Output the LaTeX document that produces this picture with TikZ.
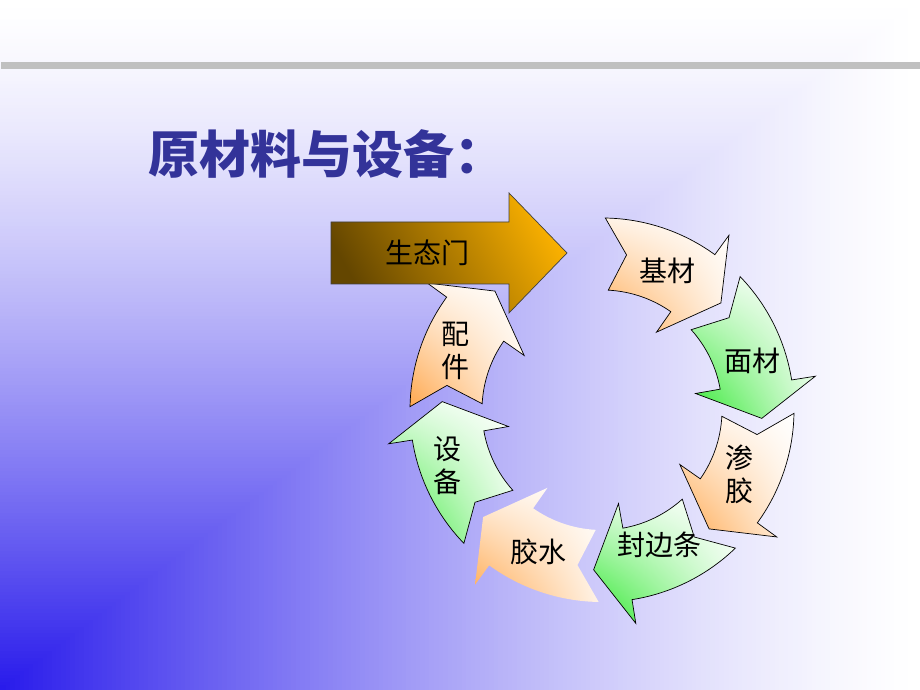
\documentclass[tikz,border=0pt]{standalone}
\usepackage{fontspec}
\setmainfont{Noto Sans CJK SC}
\usetikzlibrary{shadings}

\definecolor{titleblue}{RGB}{51,51,153}
\definecolor{bgblue}{RGB}{40,26,235}
\definecolor{rulegray}{RGB}{192,192,192}
\definecolor{orangeA}{RGB}{255,168,78}
\definecolor{greenA}{RGB}{45,232,45}
\definecolor{goldA}{RGB}{248,175,0}
\definecolor{brownA}{RGB}{100,70,0}

\tikzset{
  arrtext/.style={font=\fontsize{28}{33}\selectfont, align=center, inner sep=0pt, text=black},
  arrfill/.style={shading=bilinear interpolation, lower left=#1,
    upper left=#1!14!white, lower right=#1!14!white, upper right=white},
  arrline/.style={draw=#1, line width=0.7pt}
}

\begin{document}
\begin{tikzpicture}[x=1pt, y=1pt]
  \useasboundingbox (0,0) rectangle (920,690);
  % background, from the lower left corner
  \fill[white] (0,0) rectangle (920,690);
  \foreach \t in {1.0,0.995,...,0.0} {
    \pgfmathsetmacro\pp{100*(max(0,1-\t))^1.4}
    \fill[bgblue!\pp!white] (0,0) rectangle ({920*\t+2},{690*\t+2});
  }
  \fill[rulegray] (1,621) rectangle (920,628);

  \node[font=\fontsize{51}{55}\selectfont\bfseries, text=titleblue, anchor=west, inner sep=0pt]
    (title) at (148,536) {原材料与设备：};

  \coordinate (hub) at (602,280);
  \begin{scope}[shift={(hub)}]
    \foreach \a/\col/\ln/\pos/\nm/\txt in {
        155/orangeA/black/158:158/peijian/{配\\件},
        -160/greenA/black/-160:164/shebei/{设\\备},
        -115/orangeA/none/-114:155/jiaoshui/胶水,
        -70/greenA/black/-67:147/fengbian/封边条,
        -25/orangeA/black/-25:152/shenjiao/{渗\\胶},
        20/greenA/black/18:158/miancai/面材,
        65/orangeA/black/65:154/jicai/基材} {
      \shadedraw[arrline=\ln, arrfill=\col]
        ({\a+24}:192) arc[start angle={\a+24}, end angle={\a-11}, radius=192]
        -- ({\a-11}:216) -- ({\a-23}:160) -- ({\a-10}:95) -- ({\a-10}:120)
        arc[start angle={\a-10}, end angle={\a+22}, radius=120]
        -- ({\a+16}:157) -- cycle;
      \node[arrtext] (\nm) at (\pos) {\txt};
    }
  \end{scope}

  \shadedraw[draw=black!75, line width=0.7pt, top color=goldA, bottom color=brownA,
    shading angle=-60]
    (331,468) -- (509,468) -- (509,497) -- (567,437) -- (509,377) -- (509,406)
    -- (331,406) -- cycle;
  \node[arrtext] (gate) at (427,437) {生态门};
\end{tikzpicture}
\end{document}
